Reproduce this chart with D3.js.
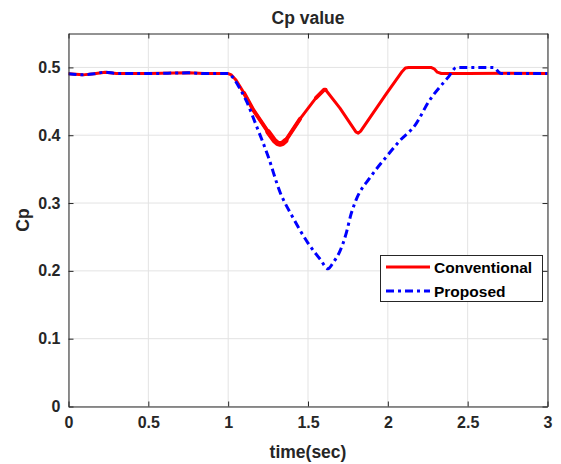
<!DOCTYPE html>
<html><head><meta charset="utf-8">
<script src="https://cdn.jsdelivr.net/npm/d3@7"></script>
<style>
body{margin:0;background:#fff;}
text{font-family:"Liberation Sans",Arial,Helvetica,sans-serif;font-weight:bold;fill:#262626;}
</style></head>
<body><svg id="chart" width="561" height="464"></svg>
<script>
// ---- data ----
const convTime = [0, 0.09, 0.16, 0.23, 0.3, 0.5, 0.75, 0.85, 1.0, 1.02, 1.05, 1.1, 1.158, 1.25, 1.29, 1.31, 1.325, 1.34, 1.36, 1.45, 1.55, 1.6, 1.61, 1.7, 1.8, 1.815, 1.83, 1.99, 2.09, 2.11, 2.13, 2.27, 2.29, 2.31, 2.335, 2.5, 2.75, 3.0];
const convCp   = [0.4905, 0.489, 0.4905, 0.493, 0.491, 0.491, 0.492, 0.491, 0.491, 0.489, 0.481, 0.462, 0.437, 0.405, 0.392, 0.388, 0.387, 0.388, 0.392, 0.424, 0.455, 0.467, 0.467, 0.44, 0.405, 0.403, 0.406, 0.461, 0.494, 0.499, 0.5, 0.5, 0.498, 0.493, 0.491, 0.491, 0.4915, 0.491];
const propTime = [0, 0.09, 0.16, 0.23, 0.3, 0.5, 0.75, 0.85, 1.0, 1.03, 1.075, 1.117, 1.17, 1.25, 1.325, 1.4, 1.5, 1.58, 1.625, 1.66, 1.7, 1.74, 1.77, 1.8, 1.89, 1.99, 2.075, 2.17, 2.26, 2.38, 2.43, 2.66, 2.71, 3.0];
const propCp   = [0.4905, 0.489, 0.4905, 0.493, 0.491, 0.491, 0.492, 0.491, 0.491, 0.485, 0.468, 0.449, 0.418, 0.369, 0.316, 0.281, 0.241, 0.216, 0.203, 0.213, 0.229, 0.256, 0.284, 0.304, 0.338, 0.368, 0.392, 0.4145, 0.451, 0.486, 0.5, 0.5, 0.491, 0.491];
const xTicks = [0, 0.5, 1, 1.5, 2, 2.5, 3];
const yTicks = [0, 0.1, 0.2, 0.3, 0.4, 0.5];
const seriesNames = ["Conventional", "Proposed"];
const seriesColors = ["#ff0000", "#0000ff"];

// ---- layout ----
const svg = d3.select("#chart");
const L = 68.5, R = 547.5, T = 33.5, B = 406.5;
const x = d3.scaleLinear().domain([0, 3]).range([L, R]);
const y = d3.scaleLinear().domain([0, 0.55]).range([B, T]);
const axisCol = "#262626";

// grid
const g = svg.append("g");
g.selectAll(".vg").data(xTicks).join("line")
  .attr("x1", d => x(d)).attr("x2", d => x(d)).attr("y1", T).attr("y2", B)
  .attr("stroke", "#e3e3e3").attr("stroke-width", 1);
g.selectAll(".hg").data(yTicks).join("line")
  .attr("x1", L).attr("x2", R).attr("y1", d => y(d)).attr("y2", d => y(d))
  .attr("stroke", "#e3e3e3").attr("stroke-width", 1);

// lines
const conv = convTime.map((t, i) => [t, convCp[i]]);
const prop = propTime.map((t, i) => [t, propCp[i]]);
const lineLin = d3.line().x(d => x(d[0])).y(d => y(d[1]));
const lineSm = d3.line().x(d => x(d[0])).y(d => y(d[1])).curve(d3.curveMonotoneX);
svg.append("clipPath").attr("id", "clp").append("rect")
  .attr("x", L).attr("y", T).attr("width", R - L).attr("height", B - T);
const lg = svg.append("g").attr("clip-path", "url(#clp)");
function redPath(data, w){
  lg.append("path").attr("d", lineLin(data)).attr("fill", "none")
    .attr("stroke", seriesColors[0]).attr("stroke-width", w)
    .attr("stroke-linejoin", "round").attr("stroke-linecap", "round");
}
redPath(conv, 3);
// oscillation makes the line look thicker around the first dip
redPath(conv.filter(d => d[0] >= 1.1 && d[0] <= 1.45), 4);
redPath(conv.filter(d => d[0] >= 1.2 && d[0] <= 1.4), 5.5);
redPath(conv.filter(d => d[0] >= 1.55 && d[0] <= 1.65), 4);
lg.append("path").attr("d", lineSm(prop)).attr("fill", "none")
  .attr("stroke", seriesColors[1]).attr("stroke-width", 3)
  .attr("stroke-dasharray", "8,4,3,4");

// axes
const tickLen = 5;
const xb = d3.axisBottom(x).tickValues(xTicks).tickFormat(d3.format("~g")).tickSizeInner(-tickLen).tickSizeOuter(0).tickPadding(10);
const xt = d3.axisTop(x).tickValues(xTicks).tickFormat("").tickSizeInner(-tickLen).tickSizeOuter(0);
const yl = d3.axisLeft(y).tickValues(yTicks).tickFormat(d3.format("~g")).tickSizeInner(-tickLen).tickSizeOuter(0).tickPadding(8);
const yr = d3.axisRight(y).tickValues(yTicks).tickFormat("").tickSizeInner(-tickLen).tickSizeOuter(0);
function style(sel){
  sel.select(".domain").attr("stroke", axisCol).attr("stroke-width", 1);
  sel.selectAll(".tick line").attr("stroke", axisCol).attr("stroke-width", 1);
  sel.selectAll(".tick text").attr("font-size", 16).attr("font-family", "Liberation Sans, Arial, sans-serif").attr("font-weight", "bold").attr("fill", axisCol);
}
svg.append("g").attr("transform", `translate(0,${B})`).call(xb).call(style);
svg.append("g").attr("transform", `translate(0,${T})`).call(xt).call(style);
svg.append("g").attr("transform", `translate(${L},0)`).call(yl).call(style);
svg.append("g").attr("transform", `translate(${R},0)`).call(yr).call(style);

// labels
svg.append("text").attr("x", (L + R) / 2).attr("y", 24).attr("text-anchor", "middle")
  .attr("font-size", 17.5).text("Cp value");
svg.append("text").attr("x", (L + R) / 2).attr("y", 458).attr("text-anchor", "middle")
  .attr("font-size", 17.5).text("time(sec)");
svg.append("text").attr("transform", `translate(29,${(T + B) / 2}) rotate(-90)`).attr("text-anchor", "middle")
  .attr("font-size", 17.5).text("Cp");

// legend
const leg = svg.append("g");
leg.append("rect").attr("x", 380.5).attr("y", 255.5).attr("width", 162).attr("height", 46)
  .attr("fill", "#fff").attr("stroke", axisCol).attr("stroke-width", 1);
seriesNames.forEach((n, i) => {
  const yy = 267 + i * 24;
  leg.append("line").attr("x1", 386).attr("x2", 430).attr("y1", yy).attr("y2", yy)
    .attr("stroke", seriesColors[i]).attr("stroke-width", 3)
    .attr("stroke-dasharray", i === 1 ? "8,4,3,4" : null);
  leg.append("text").attr("x", 434).attr("y", yy + 5.5).attr("font-size", 15.5).style("fill", "#000").text(n);
});
</script></body></html>
